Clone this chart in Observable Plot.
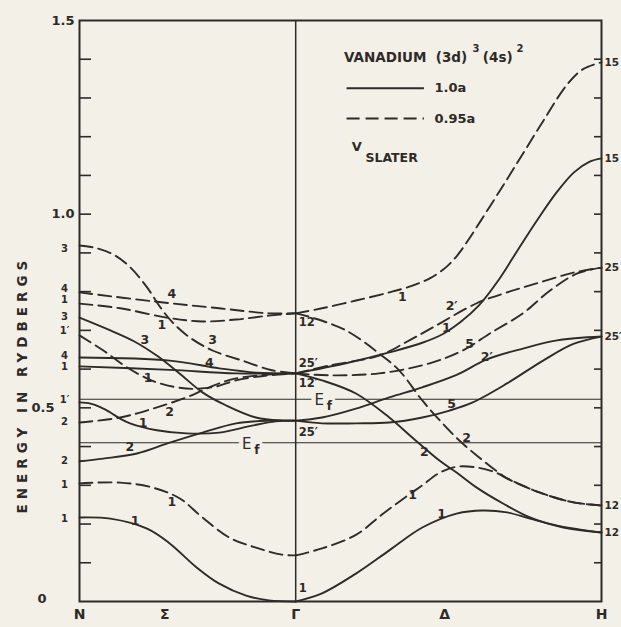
<!DOCTYPE html>
<html>
<head>
<meta charset="utf-8">
<script src="https://cdn.jsdelivr.net/npm/d3@7"></script>
<script src="https://cdn.jsdelivr.net/npm/@observablehq/plot@0.6"></script>
<style>
  html, body { margin: 0; padding: 0; background: #f3f0e7; }
  #chart svg { display: block; }
</style>
</head>
<body>
<div id="chart"></div>
<script>
// Wave vector k in units of 2π/a: N = -0.707, Γ = 0, H = 1.  Energies in Rydbergs.
const kN = -0.707, kG = 0, kH = 1;

// ---- 1.0a (solid) bands, Σ direction (N → Γ) ----
const s10_N1_G1   = [[-0.707,0.217],[-0.606,0.214],[-0.486,0.188],[-0.412,0.150],[-0.324,0.088],[-0.250,0.046],[-0.162,0.015],[-0.088,0.003],[0,0]];
const s10_N2_G25  = [[-0.707,0.362],[-0.629,0.369],[-0.519,0.382],[-0.412,0.410],[-0.305,0.436],[-0.195,0.460],[-0.088,0.467],[0,0.467]];
const s10_N1p_G25 = [[-0.707,0.514],[-0.671,0.511],[-0.639,0.502],[-0.606,0.488],[-0.574,0.472],[-0.542,0.460],[-0.454,0.442],[-0.357,0.434],[-0.250,0.436],[-0.143,0.454],[-0.065,0.465],[0,0.467]];
const s10_N4_G12  = [[-0.707,0.630],[-0.412,0.622],[-0.250,0.602],[-0.130,0.591],[0,0.589]];
const s10_N1_G12  = [[-0.707,0.607],[-0.412,0.598],[-0.195,0.589],[0,0.589]];
const s10_N3_G25  = [[-0.707,0.733],[-0.606,0.700],[-0.529,0.672],[-0.451,0.633],[-0.379,0.588],[-0.305,0.540],[-0.227,0.506],[-0.130,0.475],[-0.045,0.467],[0,0.467]];

// ---- 1.0a (solid) bands, Δ direction (Γ → H) ----
const d10_G1_H12   = [[0,0],[0.086,0.021],[0.197,0.072],[0.306,0.132],[0.414,0.191],[0.526,0.227],[0.612,0.235],[0.691,0.230],[0.766,0.214],[0.855,0.196],[1,0.178]];
const d10_G12_H12  = [[0,0.589],[0.086,0.571],[0.197,0.537],[0.306,0.475],[0.382,0.423],[0.470,0.364],[0.526,0.333],[0.592,0.294],[0.678,0.253],[0.766,0.217],[0.875,0.191],[1,0.178]];
const d10_G12_H15  = [[0,0.589],[0.164,0.615],[0.306,0.643],[0.414,0.668],[0.480,0.690],[0.540,0.722],[0.600,0.765],[0.660,0.826],[0.730,0.912],[0.790,0.985],[0.855,1.058],[0.910,1.108],[0.960,1.135],[1,1.144]];
const d10_G25_H25a = [[0,0.467],[0.086,0.475],[0.197,0.498],[0.306,0.527],[0.414,0.553],[0.526,0.585],[0.625,0.625],[0.743,0.653],[0.855,0.674],[1,0.684]];
const d10_G25_H25b = [[0,0.467],[0.086,0.460],[0.197,0.460],[0.306,0.462],[0.414,0.475],[0.503,0.493],[0.579,0.514],[0.691,0.563],[0.809,0.622],[0.908,0.665],[1,0.684]];

// ---- 0.95a (dashed) bands, Σ direction ----
const s95_N1_G1   = [[-0.707,0.305],[-0.574,0.307],[-0.467,0.294],[-0.379,0.266],[-0.305,0.217],[-0.217,0.165],[-0.130,0.139],[-0.045,0.121],[0,0.119]];
const s95_N2_G25  = [[-0.707,0.462],[-0.574,0.475],[-0.467,0.498],[-0.357,0.527],[-0.305,0.545],[-0.250,0.563],[-0.195,0.576],[-0.088,0.586],[0,0.589]];
const s95_N1p_G25 = [[-0.707,0.687],[-0.629,0.648],[-0.551,0.604],[-0.486,0.576],[-0.444,0.563],[-0.389,0.553],[-0.330,0.549],[-0.260,0.555],[-0.195,0.571],[-0.100,0.583],[0,0.589]];
const s95_N3_G25  = [[-0.707,0.919],[-0.650,0.912],[-0.590,0.893],[-0.540,0.862],[-0.486,0.811],[-0.444,0.761],[-0.402,0.720],[-0.347,0.682],[-0.272,0.648],[-0.175,0.622],[-0.078,0.597],[0,0.589]];
const s95_N4_G12  = [[-0.707,0.798],[-0.467,0.775],[-0.250,0.757],[-0.088,0.744],[0,0.744]];
const s95_N1_G12  = [[-0.707,0.769],[-0.574,0.757],[-0.422,0.733],[-0.305,0.723],[-0.195,0.728],[-0.088,0.738],[0,0.744]];

// ---- 0.95a (dashed) bands, Δ direction ----
const d95_G1_H12   = [[0,0.119],[0.086,0.137],[0.197,0.172],[0.283,0.225],[0.360,0.270],[0.414,0.300],[0.470,0.332],[0.526,0.348],[0.592,0.346],[0.651,0.334],[0.691,0.318],[0.799,0.281],[0.908,0.256],[1,0.248]];
const d95_G12_H12  = [[0,0.744],[0.053,0.733],[0.164,0.700],[0.273,0.640],[0.339,0.596],[0.414,0.519],[0.480,0.460],[0.536,0.415],[0.595,0.375],[0.651,0.340],[0.691,0.318],[0.799,0.281],[0.908,0.256],[1,0.248]];
const d95_G12_H15  = [[0,0.744],[0.086,0.757],[0.197,0.777],[0.306,0.798],[0.380,0.815],[0.440,0.835],[0.490,0.862],[0.530,0.895],[0.570,0.940],[0.635,1.020],[0.691,1.090],[0.743,1.156],[0.809,1.240],[0.888,1.335],[0.941,1.375],[1,1.392]];
const d95_G25_H25a = [[0,0.589],[0.109,0.609],[0.273,0.635],[0.362,0.670],[0.447,0.707],[0.592,0.770],[0.691,0.798],[0.799,0.824],[0.908,0.849],[1,0.862]];
const d95_G25_H25b = [[0,0.589],[0.109,0.584],[0.273,0.589],[0.438,0.615],[0.546,0.648],[0.635,0.692],[0.743,0.744],[0.832,0.803],[0.921,0.847],[1,0.862]];

const solidBands  = [s10_N1_G1, s10_N2_G25, s10_N1p_G25, s10_N4_G12, s10_N1_G12, s10_N3_G25,
                     d10_G1_H12, d10_G12_H12, d10_G12_H15, d10_G25_H25a, d10_G25_H25b];
const dashedBands = [s95_N1_G1, s95_N2_G25, s95_N1p_G25, s95_N3_G25, s95_N4_G12, s95_N1_G12,
                     d95_G1_H12, d95_G12_H12, d95_G12_H15, d95_G25_H25a, d95_G25_H25b];

// Fermi levels
const fermiLevels = [{lattice: "1.0a", E: 0.410}, {lattice: "0.95a", E: 0.522}];

// Axis ticks and labels
const tickValues = [0.1,0.2,0.3,0.4,0.5,0.6,0.7,0.8,0.9,1.0,1.1,1.2,1.3,1.4];
const symmetryPoints = [{k: kN, t: "N"}, {k: -0.428, t: "Σ"}, {k: kG, t: "Γ"}, {k: 0.487, t: "Δ"}, {k: kH, t: "H"}];

// Representation labels at N (left edge)
const nLabels = [[0.911,"3"],[0.808,"4"],[0.779,"1"],[0.736,"3"],[0.700,"1′"],[0.635,"4"],[0.606,"1"],[0.522,"1′"],[0.465,"2"],[0.364,"2"],[0.302,"1"],[0.214,"1"]];
// Representation labels at H (right edge)
const hLabels = [[1.392,"15"],[1.144,"15"],[0.862,"25"],[0.684,"25′"],[0.248,"12"],[0.178,"12"]];
// Representation labels at Γ
const gLabels = [[0.720,"12"],[0.615,"25′"],[0.563,"12′"],[0.436,"25′"],[0.034,"1"]];
// Band labels along the curves [k, E, text]
const bandLabels = [
  [-0.405,0.795,"4"],[-0.438,0.713,"1"],[-0.493,0.674,"3"],[-0.272,0.674,"3"],[-0.282,0.615,"4"],
  [-0.483,0.576,"1"],[-0.499,0.460,"1"],[-0.412,0.488,"2"],[-0.542,0.398,"2"],[-0.405,0.256,"1"],[-0.525,0.209,"1"],
  [0.349,0.785,"1"],[0.510,0.764,"2′"],[0.493,0.705,"1"],[0.569,0.664,"5"],[0.625,0.630,"2′"],
  [0.510,0.511,"5"],[0.559,0.423,"2"],[0.421,0.385,"2"],[0.382,0.274,"1"],[0.477,0.227,"1"]
];

const ink = "#2d2b28";
const paper = "#f3f0e7";
const font = "DejaVu Sans";
const lineOpts = {x: d => d[0], y: d => d[1], curve: "catmull-rom", stroke: ink, strokeWidth: 1.9};

const chart = Plot.plot({
  width: 621,
  height: 627,
  marginLeft: 79,
  marginRight: 20,
  marginTop: 20,
  marginBottom: 26,
  style: {background: paper, color: ink, fontFamily: font},
  x: {domain: [kN, kH], axis: null},
  y: {domain: [0, 1.5], axis: null},
  marks: [
    Plot.frame({stroke: ink, strokeWidth: 2}),
    Plot.ruleX([kG], {stroke: ink, strokeWidth: 1.5}),
    Plot.ruleY(fermiLevels, {y: "E", stroke: ink, strokeWidth: 1.1}),
    Plot.axisY({anchor: "left", ticks: tickValues, tickSize: -12, tickFormat: () => "", label: null, strokeWidth: 1.6}),
    Plot.axisY({anchor: "right", ticks: tickValues, tickSize: -8, tickFormat: () => "", label: null, strokeWidth: 1.6}),
    ...solidBands.map(b => Plot.line(b, lineOpts)),
    ...dashedBands.map(b => Plot.line(b, {...lineOpts, strokeDasharray: "13,6"})),

    // Fermi labels with paper halo to break the line
    Plot.text(fermiLevels, {x: d => d.lattice === "1.0a" ? -0.160 : 0.077, y: "E", text: () => "E", fontSize: 15, dy: 1,
      fill: ink, stroke: paper, strokeWidth: 9, paintOrder: "stroke"}),
    Plot.text(fermiLevels, {x: d => d.lattice === "1.0a" ? -0.160 : 0.077, y: "E", text: () => "f", fontSize: 12, fontWeight: "bold", dx: 10, dy: 7,
      fill: ink, stroke: paper, strokeWidth: 6, paintOrder: "stroke"}),

    // left value labels
    Plot.text([1.5, 1.0], {x: kN, y: d => d, text: d => d.toFixed(1), textAnchor: "end", dx: -5, fontSize: 13, fontWeight: "bold"}),
    Plot.text([0.5], {x: kN, y: d => d, text: d => d.toFixed(1), textAnchor: "end", dx: -25, fontSize: 13, fontWeight: "bold"}),
    Plot.text([0], {x: kN, y: d => d, text: () => "0", textAnchor: "end", dx: -33, dy: -3, fontSize: 13, fontWeight: "bold"}),

    // y-axis title
    Plot.text(["ENERGY IN RYDBERGS"], {x: kN, y: 0.56, text: d => d, rotate: -90, dx: -57, fontSize: 13.5, fontWeight: "bold"}),

    // symmetry point labels
    Plot.text(symmetryPoints, {x: "k", y: 0, text: "t", dy: 13, fontSize: 14, fontWeight: "bold"}),

    // representation labels
    Plot.text(nLabels, {x: kN, y: d => d[0], text: d => d[1], dx: -15, fontSize: 10, fontWeight: "bold"}),
    Plot.text(hLabels, {x: kH, y: d => d[0], text: d => d[1], dx: 3, textAnchor: "start", fontSize: 10.5, fontWeight: "bold"}),
    Plot.text(gLabels, {x: kG, y: d => d[0], text: d => d[1], dx: 3, textAnchor: "start", fontSize: 11.5, fontWeight: "bold"}),
    Plot.text(bandLabels, {x: d => d[0], y: d => d[1], text: d => d[2], fontSize: 12.5, fontWeight: "bold"}),

    // legend
    Plot.text(["VANADIUM  (3d)"], {x: 0.158, y: 1.405, text: d => d, textAnchor: "start", fontSize: 13.5, fontWeight: "bold"}),
    Plot.text(["3"], {x: 0.578, y: 1.405, text: d => d, textAnchor: "start", dy: -8, fontSize: 10, fontWeight: "bold"}),
    Plot.text(["(4s)"], {x: 0.612, y: 1.405, text: d => d, textAnchor: "start", fontSize: 13.5, fontWeight: "bold"}),
    Plot.text(["2"], {x: 0.722, y: 1.405, text: d => d, textAnchor: "start", dy: -8, fontSize: 10, fontWeight: "bold"}),
    Plot.ruleY([1.325], {x1: 0.168, x2: 0.421, stroke: ink, strokeWidth: 1.9}),
    Plot.ruleY([1.247], {x1: 0.168, x2: 0.421, stroke: ink, strokeWidth: 1.9, strokeDasharray: "13,6"}),
    Plot.text(["1.0a", "0.95a"], {x: 0.454, y: (d, i) => [1.325, 1.247][i], text: d => d, textAnchor: "start", fontSize: 13, fontWeight: "bold"}),
    Plot.text(["V"], {x: 0.200, y: 1.175, text: d => d, fontSize: 13, fontWeight: "bold"}),
    Plot.text(["SLATER"], {x: 0.228, y: 1.146, text: d => d, textAnchor: "start", fontSize: 12.5, fontWeight: "bold"})
  ]
});

d3.select(chart).selectAll("text")
  .filter(function() { return this.textContent === "ENERGY IN RYDBERGS"; })
  .attr("letter-spacing", "5px");
document.getElementById("chart").append(chart);
</script>
</body>
</html>
